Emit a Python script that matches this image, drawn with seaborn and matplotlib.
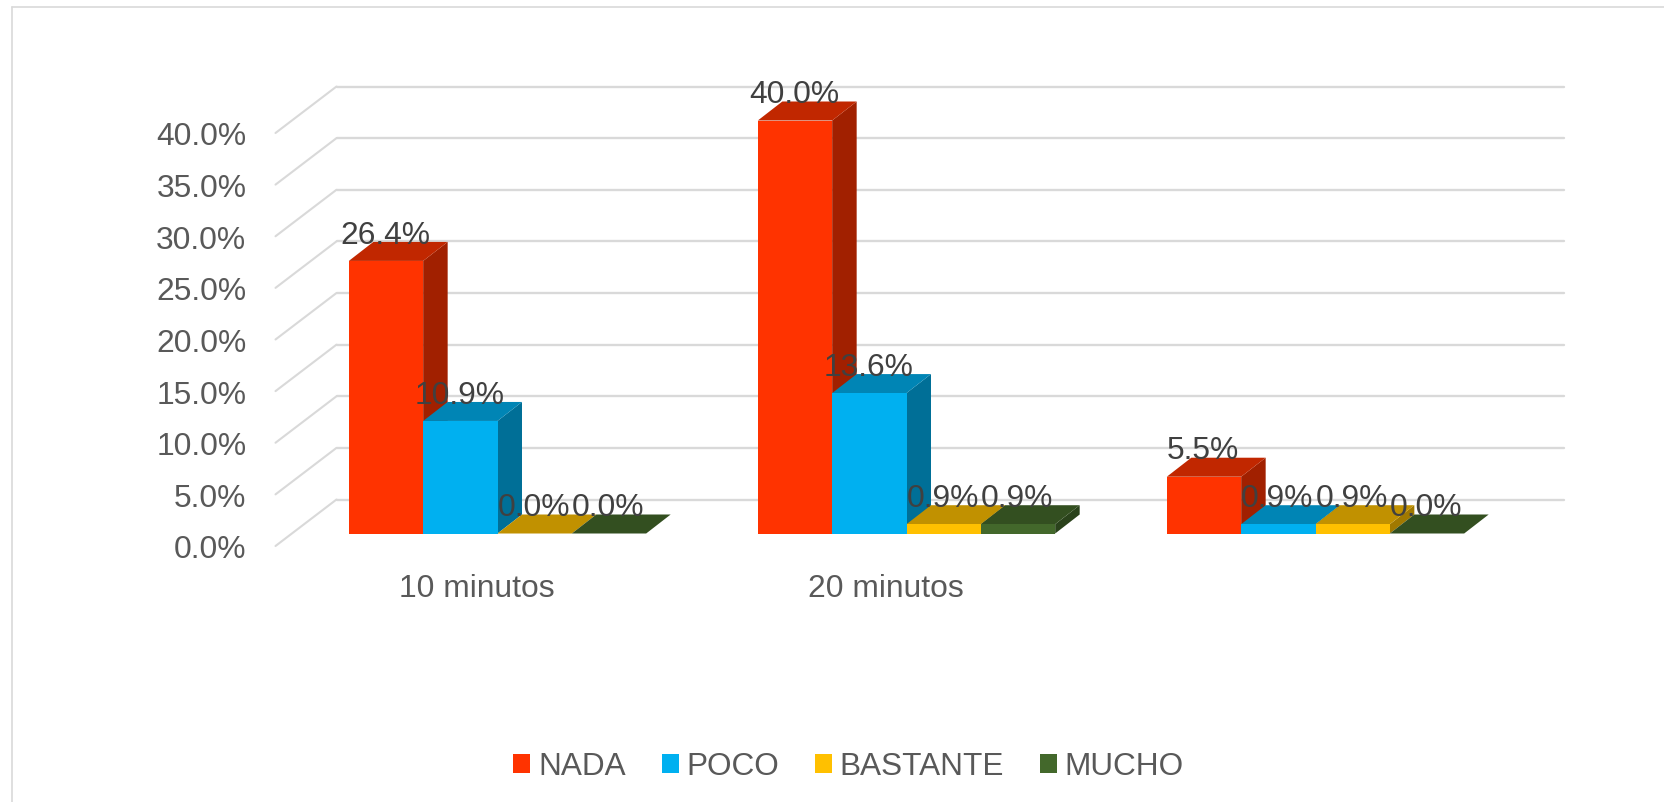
import matplotlib
matplotlib.use("Agg")
import matplotlib.pyplot as plt
from matplotlib.colors import to_rgb
from matplotlib.lines import Line2D
from matplotlib.patches import Polygon
from matplotlib.transforms import ScaledTranslation
import pandas as pd
import seaborn as sns

categories = ["10 minutos", "20 minutos", " "]
series_names = ["NADA", "POCO", "BASTANTE", "MUCHO"]
nada = [26.4, 40.0, 5.5]
poco = [10.9, 13.6, 0.9]
bastante = [0.0, 0.9, 0.9]
mucho = [0.0, 0.9, 0.0]
front_colors = ["#FF3300", "#00B0F0", "#FFC000", "#43682B"]
y_ticks = [0, 5, 10, 15, 20, 25, 30, 35, 40]

W, H = 1664, 803
DPI = 100
sns.set_theme(style="white")
plt.rcParams["font.family"] = ["Liberation Sans", "DejaVu Sans"]

rows = []
for name, values in zip(series_names, [nada, poco, bastante, mucho]):
    for category, value in zip(categories, values):
        rows.append({"category": category, "series": name, "value": value})
table = pd.DataFrame(rows)

fig = plt.figure(figsize=(W / DPI, H / DPI), dpi=DPI, facecolor="white")
ax_left, ax_right, ax_top, ax_bottom = 293.0, 1520.0, 121.5, 534.5
ax = fig.add_axes([ax_left / W, 1 - ax_bottom / H,
                   (ax_right - ax_left) / W, (ax_bottom - ax_top) / H])

sns.barplot(data=table, x="category", y="value", hue="series",
            order=categories, hue_order=series_names,
            palette=front_colors, width=0.727, gap=0, linewidth=0,
            saturation=1, ax=ax, zorder=3)
ax.set_xlim(-0.5, 2.5)
ax.set_ylim(0, 40)
ax.set_xlabel("")
ax.set_ylabel("")
sns.despine(ax=ax, left=True, bottom=True, top=True, right=True)

# Oblique projection expressed in data units, derived from the pixel scale
px_x = (ax_right - ax_left) / 3.0
px_y = (ax_bottom - ax_top) / 40.0
bar_dx, bar_dy = 24.5 / px_x, 19.0 / px_y
wall_dx, wall_dy = 43.5 / px_x, 34.0 / px_y
front_dx, front_dy = -17.5 / px_x, -12.5 / px_y

grid_color = "#D9D9D9"
for tick in y_ticks:
    ax.plot([-0.5 + wall_dx, 2.5 + wall_dx], [tick + wall_dy] * 2,
            color=grid_color, lw=1.7, clip_on=False, zorder=1)
    ax.plot([-0.5 + front_dx, -0.5 + wall_dx],
            [tick + front_dy, tick + wall_dy],
            color=grid_color, lw=1.5, clip_on=False, zorder=1)


def shade(color, factor):
    return tuple(c * factor for c in to_rgb(color))


# Top and side faces are stacked left to right so nearer bars overlap correctly
for container, color in zip(ax.containers, front_colors):
    for bar in container:
        x0, x1 = bar.get_x(), bar.get_x() + bar.get_width()
        h = bar.get_height()
        order = 3.0 + (x0 + 1.0) * 2
        bar.set_zorder(order + 0.2)
        top = Polygon([(x0, h), (x1, h), (x1 + bar_dx, h + bar_dy),
                       (x0 + bar_dx, h + bar_dy)], closed=True,
                      facecolor=shade(color, 0.755), edgecolor="none",
                      clip_on=False, zorder=order + 0.1)
        ax.add_patch(top)
        if h > 0:
            side = Polygon([(x1, 0), (x1 + bar_dx, bar_dy),
                            (x1 + bar_dx, h + bar_dy), (x1, h)], closed=True,
                           facecolor=shade(color, 0.63), edgecolor="none",
                           clip_on=False, zorder=order)
            ax.add_patch(side)
        ax.annotate(f"{h:.1f}%", xy=((x0 + x1) / 2, h), xytext=(-0.8, 19.0),
                    textcoords="offset points", ha="center", va="center",
                    fontsize=22.9, color="#404040", zorder=30,
                    annotation_clip=False)

# Axis text sits on the front edge of the floor, below and left of the bars
ax.set_yticks(y_ticks)
ax.set_yticklabels([f"{t:.1f}%" for t in y_ticks])
ax.tick_params(axis="y", length=0, pad=33.6, labelsize=22.9, labelcolor="#595959")
ax.tick_params(axis="x", length=0, pad=28.5, labelsize=22.9, labelcolor="#595959")
y_shift = ScaledTranslation(0, -12.5 / DPI, fig.dpi_scale_trans)
x_shift = ScaledTranslation(-21.0 / DPI, 0, fig.dpi_scale_trans)
for label in ax.get_yticklabels():
    label.set_transform(label.get_transform() + y_shift)
for label in ax.get_xticklabels():
    label.set_transform(label.get_transform() + x_shift)

handles, labels = ax.get_legend_handles_labels()
ax.legend(handles, labels, ncol=4, loc="center",
          bbox_to_anchor=(848.5 / W, 1 - 767.5 / H), bbox_transform=fig.transFigure,
          frameon=False, fontsize=22.7, labelcolor="#595959",
          handlelength=0.54, handleheight=0.54, handletextpad=0.24,
          columnspacing=1.14, borderpad=0, borderaxespad=0)

# Outer chart frame: top and left edges
fig.add_artist(Line2D([11.5 / W, 11.5 / W], [0, 1 - 7.5 / H], color="#D9D9D9", lw=1.2))
fig.add_artist(Line2D([11.5 / W, 1], [1 - 7.5 / H, 1 - 7.5 / H], color="#D9D9D9", lw=1.2))

fig.savefig("out.png", dpi=DPI, facecolor="white")
